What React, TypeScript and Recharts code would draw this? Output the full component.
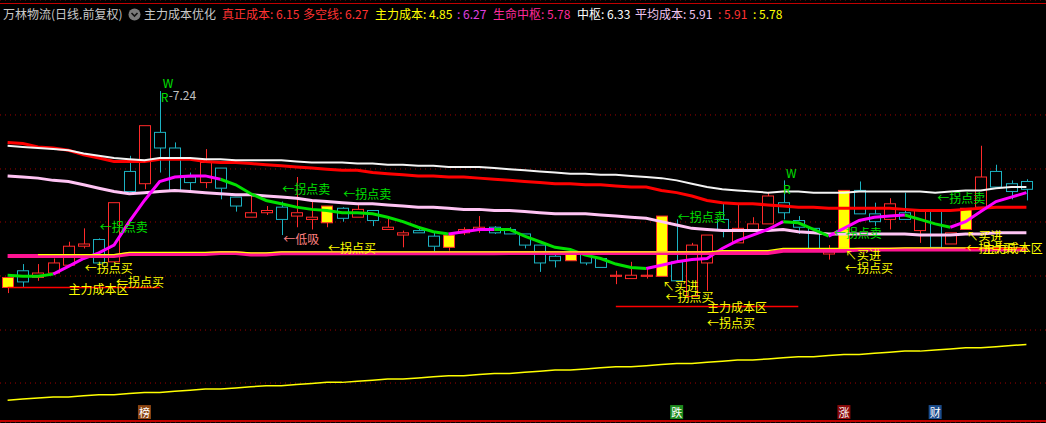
import React from "react";
import { ComposedChart, Bar, Line, XAxis, YAxis, CartesianGrid, ReferenceDot } from "recharts";

const RED = "#ff2a2a";
const CYAN = "#1cb2c2";
const YELLOW = "#ffff00";
const GREEN = "#00e000";
const FONT = '"Noto Sans CJK SC", "Noto Sans", sans-serif';

const days = Array.from({ length: 68 }, (_, i) => `D${i + 1}`);

const opens = [5.48, 5.63, 5.57, 5.61, 5.68, 5.85, 5.91, 5.71, 6.52, 6.41, 6.87, 6.73, 6.47, 6.42, 6.55, 6.29, 6.11, 6.15, 6.2, 6.12, 6.09, 6.06, 6.19, 6.11, 6.17, 6.0, 5.95, 5.99, 5.94, 5.84, 5.97, 6.0, 6.02, 6.0, 5.96, 5.86, 5.76, 5.72, 5.78, 5.74, 5.58, 5.56, 5.58, 5.58, 5.71, 5.4, 5.7, 6.09, 5.88, 6.0, 6.05, 6.24, 6.08, 6.01, 5.78, 5.83, 6.35, 6.14, 6.09, 6.15, 5.99, 6.17, 5.87, 6.0, 6.2, 6.52, 6.41, 6.43];
const highs = [5.57, 5.69, 5.69, 5.74, 5.89, 6.01, 5.92, 6.24, 6.66, 6.93, 7.24, 6.78, 6.51, 6.72, 6.55, 6.29, 6.3, 6.21, 6.25, 6.47, 6.27, 6.21, 6.2, 6.22, 6.17, 6.1, 5.99, 6.01, 5.97, 5.95, 6.02, 6.12, 6.03, 6.02, 5.96, 5.86, 5.8, 5.78, 5.78, 5.74, 5.63, 5.71, 5.65, 6.12, 6.09, 5.88, 5.95, 6.24, 6.23, 6.11, 6.33, 6.44, 6.12, 6.01, 5.86, 6.35, 6.43, 6.24, 6.28, 6.33, 6.17, 6.17, 5.97, 6.19, 6.75, 6.58, 6.44, 6.45];
const lows = [5.43, 5.48, 5.54, 5.6, 5.68, 5.83, 5.7, 5.71, 6.34, 6.36, 6.51, 6.35, 6.35, 6.37, 6.27, 6.16, 6.11, 6.13, 5.95, 6.02, 6.0, 6.02, 6.07, 6.11, 6.03, 6.0, 5.84, 5.97, 5.8, 5.81, 5.95, 5.97, 5.96, 5.96, 5.83, 5.62, 5.66, 5.72, 5.68, 5.66, 5.51, 5.56, 5.56, 5.58, 5.54, 5.4, 5.45, 5.93, 5.88, 5.98, 6.05, 6.09, 5.96, 5.82, 5.73, 5.83, 6.14, 6.03, 6.0, 6.09, 5.88, 5.84, 5.87, 6.0, 6.2, 6.38, 6.27, 6.26];
const closes = [5.57, 5.53, 5.61, 5.7, 5.85, 5.87, 5.7, 6.24, 6.34, 6.93, 6.73, 6.35, 6.42, 6.6, 6.37, 6.21, 6.15, 6.17, 6.09, 6.15, 6.11, 6.21, 6.1, 6.18, 6.08, 6.02, 5.97, 5.97, 5.85, 5.95, 6.0, 6.02, 5.97, 5.96, 5.86, 5.7, 5.72, 5.78, 5.7, 5.66, 5.59, 5.59, 5.59, 6.12, 5.54, 5.86, 5.95, 6.0, 6.01, 6.05, 6.3, 6.15, 6.02, 5.82, 5.8, 6.35, 6.14, 6.07, 6.23, 6.09, 6.17, 5.84, 5.97, 6.19, 6.47, 6.38, 6.34, 6.36];
const markedDays = [0, 21, 29, 37, 43, 55, 63];

const redLine = [6.78, 6.77, 6.74, 6.73, 6.71, 6.67, 6.64, 6.61, 6.61, 6.61, 6.63, 6.63, 6.63, 6.61, 6.6, 6.6, 6.59, 6.58, 6.57, 6.56, 6.55, 6.54, 6.53, 6.53, 6.51, 6.5, 6.49, 6.48, 6.48, 6.47, 6.47, 6.46, 6.45, 6.44, 6.43, 6.42, 6.41, 6.41, 6.4, 6.4, 6.39, 6.38, 6.38, 6.35, 6.33, 6.3, 6.26, 6.24, 6.23, 6.23, 6.22, 6.21, 6.2, 6.2, 6.19, 6.19, 6.19, 6.19, 6.19, 6.18, 6.17, 6.17, 6.17, 6.18, 6.19, 6.2, 6.2, 6.2];
const whiteLine = [6.75, 6.74, 6.73, 6.72, 6.71, 6.68, 6.66, 6.64, 6.63, 6.62, 6.64, 6.64, 6.64, 6.63, 6.63, 6.62, 6.62, 6.62, 6.62, 6.61, 6.6, 6.6, 6.6, 6.59, 6.59, 6.58, 6.58, 6.57, 6.57, 6.56, 6.56, 6.56, 6.55, 6.54, 6.53, 6.52, 6.51, 6.5, 6.5, 6.49, 6.49, 6.48, 6.47, 6.46, 6.44, 6.41, 6.38, 6.36, 6.35, 6.34, 6.33, 6.34, 6.34, 6.33, 6.33, 6.33, 6.34, 6.34, 6.34, 6.34, 6.34, 6.33, 6.34, 6.35, 6.35, 6.37, 6.38, 6.38];
const pinkLine = [6.48, 6.47, 6.46, 6.44, 6.43, 6.4, 6.37, 6.34, 6.32, 6.33, 6.34, 6.35, 6.34, 6.33, 6.32, 6.31, 6.31, 6.3, 6.29, 6.28, 6.26, 6.25, 6.24, 6.23, 6.23, 6.22, 6.21, 6.2, 6.2, 6.19, 6.18, 6.18, 6.17, 6.17, 6.16, 6.15, 6.14, 6.14, 6.14, 6.13, 6.12, 6.11, 6.1, 6.07, 6.04, 6.01, 6.0, 5.99, 5.99, 5.99, 5.99, 6.0, 5.98, 5.97, 5.96, 5.96, 5.96, 5.96, 5.96, 5.96, 5.95, 5.95, 5.95, 5.96, 5.96, 5.97, 5.97, 5.97];

const trendDown = [5.59, 5.58, 5.58, 5.6, null, null, null, null, null, null, null, null, null, null, 6.45, 6.4, 6.32, 6.26, 6.23, 6.2, 6.18, 6.17, 6.15, 6.15, 6.14, 6.11, 6.07, 6.02, 5.98, 5.96, null, null, 6.0, 6.0, 5.94, 5.89, 5.84, 5.82, 5.77, 5.74, 5.69, 5.66, 5.65, null, null, null, null, null, null, null, null, 6.07, 6.06, 6.0, 5.94, null, null, null, null, 6.13, 6.09, 6.05, 6.02, null, null, null, null, null];
const trendUp = [null, null, null, 5.6, 5.67, 5.74, 5.79, 5.86, 6.07, 6.26, 6.43, 6.47, 6.48, 6.48, 6.45, null, null, null, null, null, null, null, null, null, null, null, null, null, null, 5.96, 5.98, 6.0, 6.0, null, null, null, null, null, null, null, null, null, 5.65, 5.68, 5.71, 5.73, 5.74, 5.83, 5.9, 5.95, 6.0, 6.07, null, null, 5.94, 6.01, 6.08, 6.11, 6.12, 6.13, null, null, 6.02, 6.07, 6.16, 6.25, 6.29, 6.33];

const lifeCenter = [5.762, 5.762, 5.762, 5.762, 5.762, 5.762, 5.762, 5.762, 5.78, 5.78, 5.78, 5.78, 5.78, 5.78, 5.789, 5.789, 5.776, 5.776, 5.786, 5.786, 5.786, 5.786, 5.786, 5.786, 5.786, 5.786, 5.786, 5.786, 5.786, 5.786, 5.786, 5.786, 5.786, 5.789, 5.789, 5.789, 5.789, 5.789, 5.789, 5.789, 5.789, 5.789, 5.789, 5.789, 5.789, 5.789, 5.789, 5.789, 5.789, 5.789, 5.789, 5.81, 5.81, 5.81, 5.81, 5.81, 5.82, 5.82, 5.82, 5.82, 5.82, 5.82, 5.82, 5.82, 5.82, 5.82, 5.82, 5.82];
const mainCost = [null, null, 5.775, 5.775, 5.775, 5.775, 5.775, 5.775, 5.795, 5.795, 5.795, 5.795, 5.795, 5.795, 5.8, 5.8, 5.79, 5.79, 5.8, 5.8, 5.8, 5.8, 5.8, 5.8, 5.8, 5.8, 5.8, 5.8, 5.8, 5.8, 5.8, 5.8, 5.8, 5.8, 5.8, 5.8, 5.8, 5.8, 5.8, 5.8, 5.8, 5.8, 5.8, 5.8, 5.8, 5.8, 5.8, 5.81, 5.81, 5.81, 5.81, 5.83, 5.83, 5.83, 5.83, 5.83, 5.83, 5.83, 5.83, 5.835, 5.835, 5.835, 5.835, 5.835, 5.835, 5.835, 5.835, 5.835];
const costZone = [5.48, 5.48, 5.48, 5.48, 5.48, 5.48, 5.48, 5.48, 5.48, 5.48, 5.48, null, null, null, null, null, null, null, null, null, null, null, null, null, null, null, null, null, null, null, null, null, null, null, null, null, null, null, null, null, 5.31, 5.31, 5.31, 5.31, 5.31, 5.31, 5.31, 5.31, 5.31, 5.31, 5.31, 5.31, 5.31, null, null, null, null, null, null, null, null, null, null, 5.83, 5.83, 5.83, 5.83, 5.83];
const baseLine = [4.47, 4.48, 4.49, 4.5, 4.5, 4.51, 4.52, 4.52, 4.53, 4.54, 4.54, 4.55, 4.56, 4.57, 4.57, 4.58, 4.59, 4.6, 4.6, 4.61, 4.62, 4.63, 4.63, 4.64, 4.65, 4.66, 4.66, 4.67, 4.68, 4.69, 4.69, 4.7, 4.71, 4.71, 4.72, 4.73, 4.74, 4.74, 4.75, 4.76, 4.77, 4.77, 4.78, 4.79, 4.8, 4.8, 4.81, 4.82, 4.83, 4.83, 4.84, 4.85, 4.86, 4.86, 4.87, 4.88, 4.88, 4.89, 4.9, 4.91, 4.91, 4.92, 4.93, 4.94, 4.94, 4.95, 4.96, 4.97];

const gridPrices = [7.026, 6.542, 6.067, 5.583, 5.099, 4.624];

const header = [
  { x: 3, t: "万林物流(日线.前复权)", c: "#c8c8c8" },
  { x: 144, t: "主力成本优化", c: "#c8c8c8" },
  { x: 222, t: "真正成本: 6.15", c: "#ff3232" },
  { x: 303, t: "多空线: 6.27", c: "#ff3232" },
  { x: 375, t: "主力成本: 4.85", c: "#ffff00" },
  { x: 457, t: ": 6.27", c: "#e040e0" },
  { x: 493, t: "生命中枢: 5.78", c: "#ff2a9a" },
  { x: 577, t: "中枢: 6.33", c: "#ffffff" },
  { x: 635, t: "平均成本: 5.91", c: "#f0c4f0" },
  { x: 718, t: ": 5.91", c: "#ff3232" },
  { x: 753, t: ": 5.78", c: "#ffff00" },
];

const notes = [
  { i: 10, p: 7.32, t: "W", c: GREEN, dx: 3 },
  { i: 10, p: 7.19, t: "R", c: GREEN, dx: 1 },
  { i: 10, p: 7.21, t: "-7.24", c: "#c0c0c0", dx: 9 },
  { i: 6, p: 6.03, t: "←拐点卖", c: GREEN, dx: 1 },
  { i: 5, p: 5.655, t: "←拐点买", c: YELLOW, dx: 1 },
  { i: 4, p: 5.475, t: "主力成本区", c: YELLOW, dx: 0 },
  { i: 7, p: 5.53, t: "←拐点买", c: YELLOW, dx: 2 },
  { i: 18, p: 6.37, t: "←拐点卖", c: GREEN, dx: 1 },
  { i: 22, p: 6.32, t: "←拐点卖", c: GREEN, dx: 1 },
  { i: 18, p: 5.92, t: "←低吸", c: "#ff8080", dx: 2 },
  { i: 21, p: 5.84, t: "←拐点买", c: YELLOW, dx: 1 },
  { i: 44, p: 6.12, t: "←拐点卖", c: GREEN, dx: 1 },
  { i: 43, p: 5.5, t: "↖买进", c: YELLOW, dx: 1 },
  { i: 43, p: 5.395, t: "←拐点买", c: YELLOW, dx: 4 },
  { i: 46, p: 5.314, t: "主力成本区", c: YELLOW, dx: 0 },
  { i: 46, p: 5.162, t: "←拐点买", c: YELLOW, dx: 0 },
  { i: 51, p: 6.506, t: "W", c: GREEN, dx: 3 },
  { i: 51, p: 6.37, t: "R", c: GREEN, dx: 0 },
  { i: 54, p: 5.977, t: "←拐点卖", c: GREEN, dx: 5 },
  { i: 55, p: 5.78, t: "↖买进", c: YELLOW, dx: 1 },
  { i: 55, p: 5.655, t: "←拐点买", c: YELLOW, dx: 1 },
  { i: 61, p: 6.29, t: "←拐点卖", c: GREEN, dx: 2 },
  { i: 63, p: 5.95, t: "↖买进", c: YELLOW, dx: 1 },
  { i: 63, p: 5.834, t: "←拐点买", c: YELLOW, dx: 1 },
  { i: 64, p: 5.834, t: "主力成本区", c: YELLOW, dx: 2 },
];

const tagPrice = 4.364;
const tags = [
  { i: 9, t: "榜", bg: "#8b4513" },
  { i: 44, t: "跌", bg: "#1e8c1e" },
  { i: 55, t: "涨", bg: "#8b0a0a" },
  { i: 61, t: "财", bg: "#1a4c8c" },
];

const rows = days.map((d, i) => ({
  d,
  open: opens[i],
  high: highs[i],
  low: lows[i],
  close: closes[i],
  range: [lows[i], highs[i]],
  mark: markedDays.includes(i),
  red: redLine[i],
  white: whiteLine[i],
  pink: pinkLine[i],
  down: trendDown[i],
  up: trendUp[i],
  life: lifeCenter[i],
  cost: mainCost[i],
  zone: costZone[i],
  base: baseLine[i],
}));

const Candle = (props: any) => {
  const { x, y, width, height, payload } = props;
  const { open, close, high, low, mark } = payload;
  const top = Math.min(y, y + height);
  const h = Math.abs(height);
  const py = (v: number) => top + ((high - v) / (high - low)) * h;
  const up = close >= open;
  const stroke = mark || up ? RED : CYAN;
  const cx = Math.round(x + width / 2) + 0.5;
  const bt = py(Math.max(open, close));
  const bh = Math.max(py(Math.min(open, close)) - bt, 1);
  return (
    <g>
      <line x1={cx} x2={cx} y1={top} y2={bt} stroke={stroke} />
      <line x1={cx} x2={cx} y1={bt + bh} y2={top + h} stroke={stroke} />
      <rect x={Math.round(x) + 0.5} y={bt} width={width - 1} height={bh} fill={mark ? YELLOW : "#000"} stroke={stroke} />
    </g>
  );
};

const lineProps = { dot: false, activeDot: false, isAnimationActive: false, type: "linear" as const };

export default function App() {
  return (
    <div style={{ position: "absolute", left: 0, top: 0, width: 1046, height: 423, background: "#000", overflow: "hidden" }}>
      <div style={{ position: "absolute", left: 0, top: 3, width: 1046, height: 1, background: "#c00000" }} />
      <div style={{ position: "absolute", left: 0, top: 420, width: 1046, height: 2, background: "#c00000" }} />
      {header.map((h) => (
        <span key={h.x} style={{ position: "absolute", left: h.x, top: 7, fontFamily: FONT, fontSize: 12, lineHeight: "14px", color: h.c, whiteSpace: "nowrap" }}>
          {h.t}
        </span>
      ))}
      <svg style={{ position: "absolute", left: 128, top: 8 }} width={13} height={13}>
        <circle cx={6.5} cy={6.5} r={6} fill="#7a7a7a" />
        <path d="M3.5 5 L6.5 8 L9.5 5" stroke="#111" strokeWidth={1.6} fill="none" />
      </svg>
      <div style={{ position: "absolute", left: 0, top: 0 }}>
        <ComposedChart width={1046} height={423} data={rows} margin={{ top: 0, right: 0, bottom: 0, left: 0 }}>
          <XAxis dataKey="d" hide padding={{ left: 0, right: 12 }} />
          <YAxis hide type="number" domain={[4.266, 8.056]} allowDataOverflow ticks={gridPrices} />
          <CartesianGrid vertical={false} stroke="#a00000" strokeDasharray="1 4" />
          <Line dataKey="base" stroke={YELLOW} strokeWidth={1.5} {...lineProps} />
          <Line dataKey="pink" stroke="#ffc4f4" strokeWidth={3} {...lineProps} />
          <Line dataKey="red" stroke="#ff0000" strokeWidth={3} {...lineProps} />
          <Line dataKey="white" stroke="#f4f4f4" strokeWidth={2} {...lineProps} />
          <Line dataKey="down" stroke={GREEN} strokeWidth={3} {...lineProps} />
          <Line dataKey="up" stroke="#ff00ff" strokeWidth={3} {...lineProps} />
          <Bar dataKey="range" barSize={12} shape={Candle} isAnimationActive={false} />
          <Line dataKey="life" stroke="#ff1493" strokeWidth={4} {...lineProps} />
          <Line dataKey="cost" stroke={YELLOW} strokeWidth={1.2} {...lineProps} />
          <Line dataKey="zone" stroke="#ff0000" strokeWidth={1.5} {...lineProps} />
          {notes.map((n, k) => (
            <ReferenceDot
              key={`n${k}`}
              x={days[n.i]}
              y={n.p}
              r={1}
              shape={(p: any) => (
                <text x={p.cx + n.dx} y={p.cy} fill={n.c} fontSize={12} fontFamily={FONT} dominantBaseline="central">
                  {n.t}
                </text>
              )}
            />
          ))}
          {tags.map((g) => (
            <ReferenceDot
              key={g.t}
              x={days[g.i]}
              y={tagPrice}
              r={1}
              shape={(p: any) => (
                <g>
                  <rect x={p.cx - 6.5} y={p.cy - 7} width={13} height={14} fill={g.bg} />
                  <text x={p.cx} y={p.cy} fill="#fff" fontSize={11} fontFamily={FONT} textAnchor="middle" dominantBaseline="central">
                    {g.t}
                  </text>
                </g>
              )}
            />
          ))}
        </ComposedChart>
      </div>
    </div>
  );
}
